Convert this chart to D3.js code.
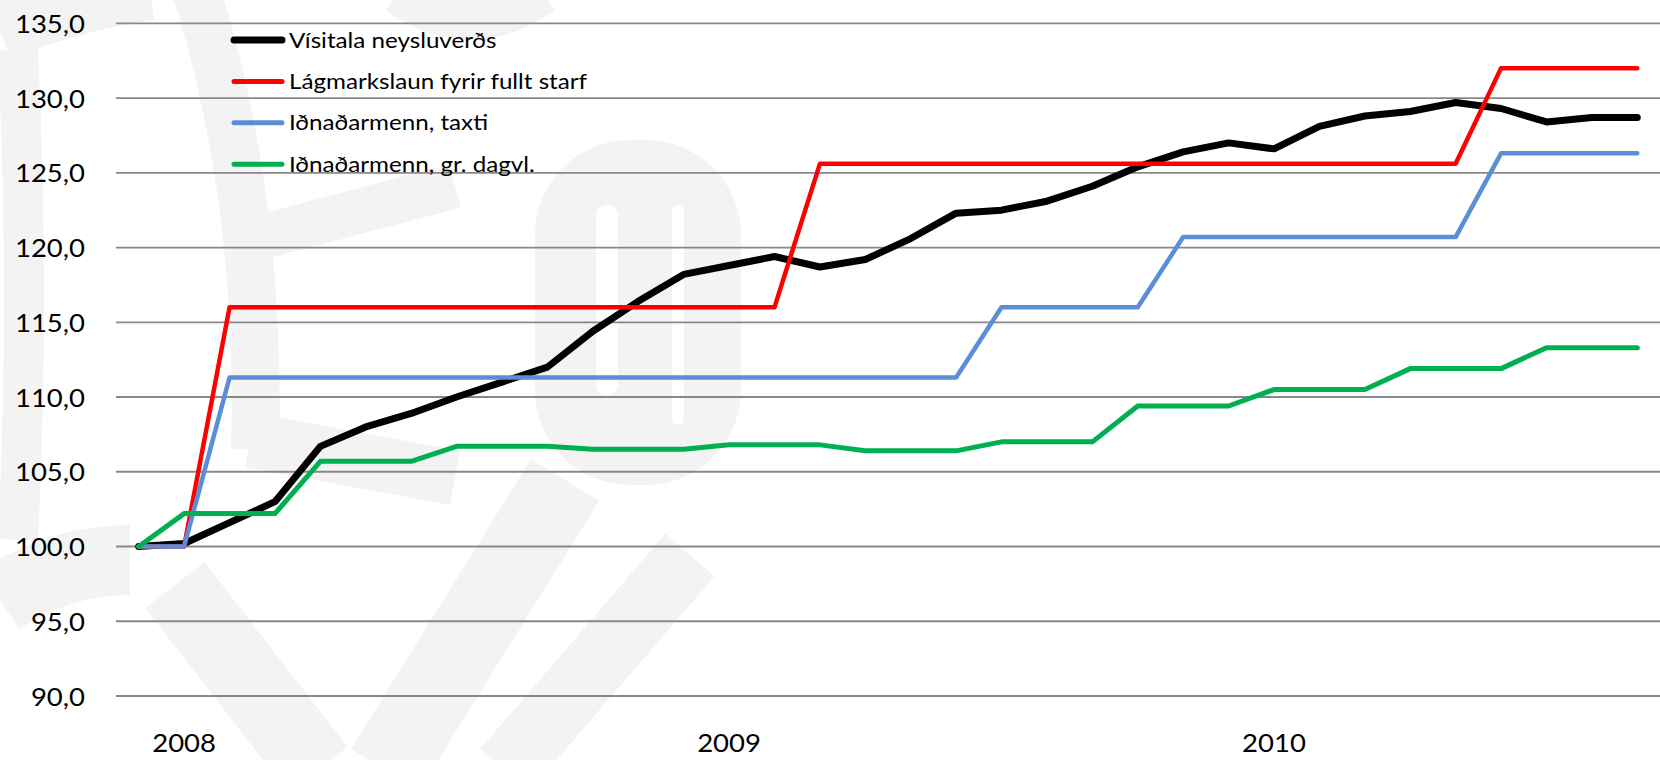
<!DOCTYPE html>
<html>
<head>
<meta charset="utf-8">
<script src="https://cdn.jsdelivr.net/npm/d3@7"></script>
<style>
  html, body { margin: 0; padding: 0; background: #ffffff; }
  svg { display: block; }
  text { font-family: Lato, "Open Sans", "Liberation Sans", sans-serif; fill: #000; }
</style>
</head>
<body>
<svg id="chart" width="1660" height="760"></svg>
<script>
// ---------- DATA ----------
const categories = [
  "2007-12",
  "2008-01","2008-02","2008-03","2008-04","2008-05","2008-06",
  "2008-07","2008-08","2008-09","2008-10","2008-11","2008-12",
  "2009-01","2009-02","2009-03","2009-04","2009-05","2009-06",
  "2009-07","2009-08","2009-09","2009-10","2009-11","2009-12",
  "2010-01","2010-02","2010-03","2010-04","2010-05","2010-06",
  "2010-07","2010-08","2010-09"
];
const yearTickCategories = ["2008-01", "2009-01", "2010-01"];
const yearTickLabels = ["2008", "2009", "2010"];
const yTicks = [90, 95, 100, 105, 110, 115, 120, 125, 130, 135];

const seriesNames = [
  "Vísitala neysluverðs",
  "Lágmarkslaun fyrir fullt starf",
  "Iðnaðarmenn, taxti",
  "Iðnaðarmenn, gr. dagvl."
];
const visitala = [100.0, 100.2, 101.6, 103.0, 106.7, 108.0, 108.9, 110.0, 111.0, 112.0, 114.4, 116.4, 118.2,
  118.8, 119.4, 118.7, 119.2, 120.6, 122.3, 122.5, 123.1, 124.1, 125.4, 126.4, 127.0,
  126.6, 128.1, 128.8, 129.1, 129.7, 129.3, 128.4, 128.7, 128.7];
const lagmarkslaun = [100.0, 100.0, 116.0, 116.0, 116.0, 116.0, 116.0, 116.0, 116.0, 116.0, 116.0, 116.0, 116.0,
  116.0, 116.0, 125.6, 125.6, 125.6, 125.6, 125.6, 125.6, 125.6, 125.6, 125.6, 125.6,
  125.6, 125.6, 125.6, 125.6, 125.6, 132.0, 132.0, 132.0, 132.0];
const taxti = [100.0, 100.0, 111.3, 111.3, 111.3, 111.3, 111.3, 111.3, 111.3, 111.3, 111.3, 111.3, 111.3,
  111.3, 111.3, 111.3, 111.3, 111.3, 111.3, 116.0, 116.0, 116.0, 116.0, 120.7, 120.7,
  120.7, 120.7, 120.7, 120.7, 120.7, 126.3, 126.3, 126.3, 126.3];
const dagvinna = [100.0, 102.2, 102.2, 102.2, 105.7, 105.7, 105.7, 106.7, 106.7, 106.7, 106.5, 106.5, 106.5,
  106.8, 106.8, 106.8, 106.4, 106.4, 106.4, 107.0, 107.0, 107.0, 109.4, 109.4, 109.4,
  110.5, 110.5, 110.5, 111.9, 111.9, 111.9, 113.3, 113.3, 113.3];

const seriesValues = [visitala, lagmarkslaun, taxti, dagvinna];
const seriesColors = ["#000000", "#ff0000", "#5a8ed6", "#00b050"];
const seriesWidths = [7, 4.5, 4.5, 5];
const legendWidths = [7, 5, 5, 5];

// ---------- LAYOUT ----------
const W = 1660, H = 760;
const plot = { left: 116, right: 1660, top: 23.3, bottom: 696 };
const sx = 1.1; // horizontal text stretch to match reference proportions

const svg = d3.select("#chart");
svg.append("rect").attr("width", W).attr("height", H).attr("fill", "#ffffff");

// faint watermark shapes in the background
const wmColor = "#f3f3f3";
const wm = svg.append("g").attr("fill", "none").attr("stroke", wmColor);
wm.append("path").attr("d", "M 18 50 Q 30 300 18 540").attr("stroke-width", 40);
wm.append("path").attr("d", "M 0 30 Q 80 0 150 -10").attr("stroke-width", 60);
wm.append("path").attr("d", "M 196 -10 Q 262 200 255 450").attr("stroke-width", 48);
wm.append("path").attr("d", "M 265 236 L 455 186").attr("stroke-width", 45);
wm.append("path").attr("d", "M 250 440 L 455 478").attr("stroke-width", 55);
wm.append("path").attr("d", "M 0 600 Q 60 560 130 560").attr("stroke-width", 70);
wm.append("path").attr("d", "M 175 585 L 318 770").attr("stroke-width", 75);
wm.append("path").attr("d", "M 385 770 L 565 480").attr("stroke-width", 80);
wm.append("path").attr("d", "M 505 770 L 690 555").attr("stroke-width", 65);
wm.append("path").attr("d", "M 400 -10 Q 470 40 540 -10").attr("stroke-width", 50);
wm.append("rect").attr("x", 535).attr("y", 140).attr("width", 206).attr("height", 345)
  .attr("rx", 95).attr("fill", wmColor).attr("stroke", "none");
wm.append("rect").attr("x", 596).attr("y", 205).attr("width", 22).attr("height", 190)
  .attr("rx", 10).attr("fill", "#ffffff").attr("stroke", "none");
wm.append("rect").attr("x", 672).attr("y", 205).attr("width", 12).attr("height", 220)
  .attr("rx", 6).attr("fill", "#ffffff").attr("stroke", "none");

// ---------- SCALES ----------
const x = d3.scalePoint().domain(categories).range([plot.left, plot.right]).padding(0.5);
const y = d3.scaleLinear().domain([90, 135]).range([plot.bottom, plot.top]);

// gridlines
svg.append("g").selectAll("line").data(yTicks).join("line")
  .attr("x1", plot.left).attr("x2", plot.right)
  .attr("y1", d => y(d)).attr("y2", d => y(d))
  .attr("stroke", "#888888").attr("stroke-width", 1.8);

// y-axis labels
const fmt = d => d.toFixed(1).replace(".", ",");
svg.append("g").selectAll("text").data(yTicks).join("text")
  .attr("transform", d => `translate(85,${y(d) + 9.5}) scale(${sx},1)`)
  .attr("text-anchor", "end")
  .attr("font-size", 25)
  .text(fmt);

// x-axis year labels
svg.append("g").selectAll("text").data(yearTickCategories).join("text")
  .attr("transform", d => `translate(${x(d)},752) scale(${sx},1)`)
  .attr("text-anchor", "middle")
  .attr("font-size", 25)
  .text((d, i) => yearTickLabels[i]);

// ---------- LINES ----------
const line = d3.line().x((d, i) => x(categories[i])).y(d => y(d));
seriesValues.forEach((vals, s) => {
  svg.append("path")
    .datum(vals)
    .attr("d", line)
    .attr("fill", "none")
    .attr("stroke", seriesColors[s])
    .attr("stroke-width", seriesWidths[s])
    .attr("stroke-linejoin", "round")
    .attr("stroke-linecap", "round");
});

// ---------- LEGEND ----------
const legend = svg.append("g");
const legY0 = 40, legDy = 41.4;
seriesNames.forEach((name, i) => {
  const ly = legY0 + i * legDy;
  legend.append("line")
    .attr("x1", 234).attr("x2", 282).attr("y1", ly).attr("y2", ly)
    .attr("stroke", seriesColors[i]).attr("stroke-width", legendWidths[i])
    .attr("stroke-linecap", "round");
  legend.append("text")
    .attr("transform", `translate(289,${ly + 7.5}) scale(${sx},1)`)
    .attr("font-size", 22)
    .text(name);
});
</script>
</body>
</html>
